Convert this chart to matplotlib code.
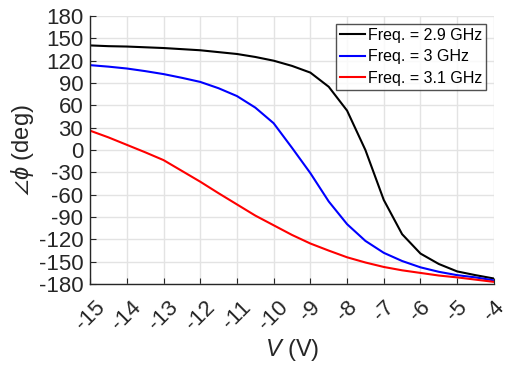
import matplotlib
matplotlib.use("Agg")
import matplotlib.pyplot as plt

# bias voltage sweep (V)
voltage = [-15, -14.5, -14, -13.5, -13, -12.5, -12, -11.5, -11, -10.5, -10,
           -9.5, -9, -8.5, -8, -7.5, -7, -6.5, -6, -5.5, -5, -4.5, -4]

# phase (deg) at each frequency
phase_2p9 = [140.5, 139.5, 139, 138, 137, 135.5, 134, 131.5, 129, 125, 120,
             113, 104, 85, 53, 0, -67, -113, -139, -153, -163, -168, -172.5]
phase_3p0 = [114, 112, 109.5, 106, 102, 97, 91.5, 83, 72.5, 57, 36,
             3, -31, -69, -99.5, -122, -138, -149, -157.5, -163.5, -168, -171, -175]
phase_3p1 = [26, 17, 7, -3, -13.5, -28, -42.5, -58, -73, -88, -101,
             -114, -125.5, -135, -144, -151, -157, -161.5, -165, -168.5, -171, -174, -177]

labels = ["Freq. = 2.9 GHz", "Freq. = 3 GHz", "Freq. = 3.1 GHz"]
colors = ["#000000", "#0000ff", "#ff0000"]

plt.rcParams["font.family"] = ["Liberation Sans", "DejaVu Sans"]
plt.rcParams["axes.unicode_minus"] = False
plt.rcParams["mathtext.fontset"] = "custom"
plt.rcParams["mathtext.rm"] = "Liberation Sans"
plt.rcParams["mathtext.it"] = "Liberation Sans:italic"

fig = plt.figure(figsize=(5.15, 3.68), dpi=100)
ax = fig.add_axes([0.175, 0.228, 0.784, 0.7285])

for y, lab, c in zip([phase_2p9, phase_3p0, phase_3p1], labels, colors):
    ax.plot(voltage, y, color=c, lw=1.5, label=lab)

ax.set_xlim(-15, -4)
ax.set_ylim(-180, 180)
ax.set_xticks(range(-15, -3))
ax.set_yticks(range(-180, 181, 30))
ax.grid(True, color="#e3e3e3", lw=1.0)
ax.set_axisbelow(True)

for side in ["top", "right"]:
    ax.spines[side].set_visible(False)
for side in ["left", "bottom"]:
    ax.spines[side].set_color("#262626")
    ax.spines[side].set_linewidth(1.0)

ax.tick_params(axis="both", direction="in", length=4, color="#262626",
               labelsize=16, labelcolor="#262626")
ax.tick_params(axis="y", pad=5)
ax.tick_params(axis="x", pad=9)
for t in ax.get_xticklabels():
    t.set_rotation(45)
    t.set_ha("center")
    t.set_va("top")

ax.set_xlabel(r"$\it{V}$ (V)", fontsize=17, color="#262626", labelpad=2)
ax.set_ylabel(r"$\angle\phi$ (deg)", fontsize=17, color="#262626", labelpad=2)

leg = ax.legend(loc="upper right", fontsize=11.5, frameon=True, fancybox=False,
                borderpad=0.25, handlelength=1.6, handletextpad=0.15,
                labelspacing=0.4, borderaxespad=0.5)
leg.get_frame().set_edgecolor("#262626")
leg.get_frame().set_linewidth(1.0)

fig.savefig("out.png", dpi=100)
